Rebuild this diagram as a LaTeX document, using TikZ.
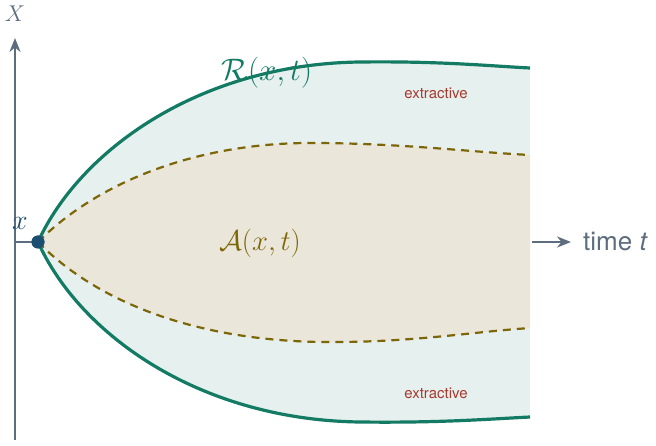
\documentclass[tikz,border=0pt]{standalone}
\usepackage[no-math]{fontspec}
\setsansfont{TeX Gyre Heros}
\usetikzlibrary{arrows.meta}
\definecolor{tealc}{HTML}{137A63}
\definecolor{outerf}{HTML}{E6F0EE}
\definecolor{innerf}{HTML}{EAE6D9}
\definecolor{olivec}{HTML}{7D6608}
\definecolor{ptc}{HTML}{1B4F72}
\definecolor{axc}{HTML}{5D6D7E}
\definecolor{redc}{HTML}{A93A30}
\tikzset{
  axisline/.style={draw=axc, line width=2pt, -{Stealth[length=14pt,width=11pt]}},
  boundary/.style={draw=tealc, line width=3.2pt},
  dashline/.style={draw=olivec, line width=2.2pt, dash pattern=on 8pt off 6pt},
  exlabel/.style={text=redc, font=\sffamily\fontsize{15}{17}\selectfont},
}
\begin{document}
\begin{tikzpicture}[x=1pt,y=-1pt]
\useasboundingbox (0,0) rectangle (656,446);
% regions
\fill[outerf] (38,242) .. controls (80,150) and (200,64) .. (360,62) .. controls (440,61) and (490,66) .. (530,68)
  -- (530,417) .. controls (490,419) and (440,423) .. (360,422) .. controls (200,420) and (80,335) .. (38,242) -- cycle;
\fill[innerf] (38,242) .. controls (100,180) and (200,143) .. (310,143) .. controls (400,143) and (470,152) .. (530,155)
  -- (530,328) .. controls (470,332) and (410,343) .. (320,342) .. controls (200,340) and (100,305) .. (38,242) -- cycle;
% axes
\coordinate (ybot) at (15,440);
\coordinate (ytop) at (15,38);
\coordinate (xo) at (15,242);
\node[circle, fill=ptc, inner sep=0pt, minimum size=13pt] (pt) at (38,242) {};
\draw[axisline] (ybot) -- (ytop);
\draw[draw=axc, line width=2pt] (xo) -- (pt.center);
% boundaries
\draw[dashline] (pt.center) .. controls (100,180) and (200,143) .. (310,143) .. controls (400,143) and (470,152) .. (530,155);
\draw[dashline] (pt.center) .. controls (100,305) and (200,340) .. (320,342) .. controls (410,343) and (470,332) .. (530,328);
\draw[boundary] (pt.center) .. controls (80,150) and (200,64) .. (360,62) .. controls (440,61) and (490,66) .. (530,68);
\draw[boundary] (pt.center) .. controls (80,335) and (200,420) .. (360,422) .. controls (440,423) and (490,419) .. (530,417);
\node[circle, fill=ptc, inner sep=0pt, minimum size=13pt] at (pt) {};
% time arrow
\coordinate (ta) at (532,242);
\node[anchor=west, text=axc, font=\sffamily\fontsize{26}{29}\selectfont, inner sep=0pt] (time) at (583,242) {time \textit{t}};
\draw[axisline, shorten >=12pt] (ta) -- (time.west);
% labels
\node[text=axc, font=\fontsize{20.74}{24}\selectfont, scale=1.1] (X) at (15,14) {$X$};
\node[text=ptc, font=\fontsize{20.74}{24}\selectfont, scale=1.35] (x) at (20,223) {$x$};
\node[text=tealc, font=\fontsize{24.88}{28}\selectfont, scale=1.25] (R) at (267,73) {$\mathcal{R}(x,t)$};
\node[text=olivec, font=\fontsize{24.88}{28}\selectfont, scale=1.15] (A) at (260,243) {$\mathcal{A}(x,t)$};
\node[exlabel] (e1) at (436,93) {extractive};
\node[exlabel] (e2) at (436,393) {extractive};
\end{tikzpicture}
\end{document}
